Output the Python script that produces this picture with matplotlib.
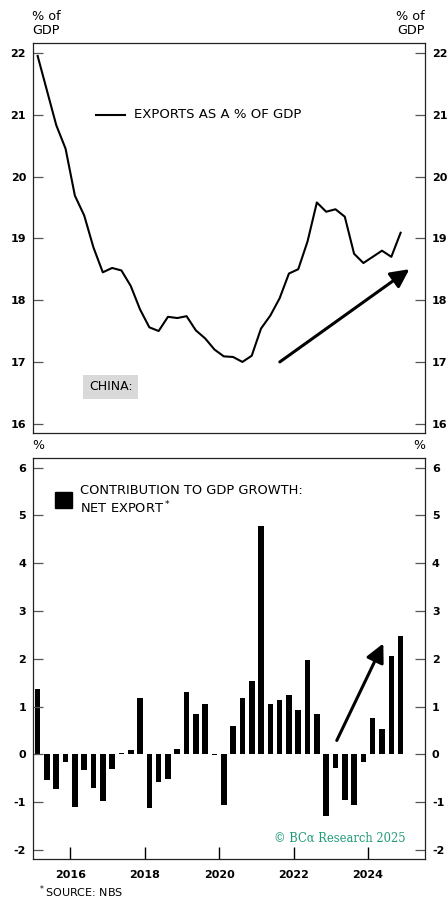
import pandas as pd
from matplotlib import pyplot as plt

# Quarterly series, 2015Q1 - 2024Q4
quarters = pd.period_range("2015Q1", "2024Q4", freq="Q")

exports_pct = [21.95, 21.39, 20.83, 20.45, 19.69, 19.37, 18.85, 18.45,
               18.52, 18.48, 18.23, 17.85, 17.56, 17.50, 17.73, 17.71,
               17.74, 17.51, 17.38, 17.20, 17.09, 17.08, 17.00, 17.10,
               17.54, 17.75, 18.03, 18.43, 18.50, 18.95, 19.58, 19.43,
               19.47, 19.35, 18.75, 18.60, 18.70, 18.80, 18.70, 19.09]

net_export = [1.36, -0.53, -0.72, -0.17, -1.11, -0.33, -0.71, -0.98,
              -0.31, 0.03, 0.10, 1.18, -1.12, -0.58, -0.51, 0.12,
              1.31, 0.85, 1.05, -0.01, -1.06, 0.60, 1.17, 1.54,
              4.77, 1.06, 1.13, 1.24, 0.92, 1.97, 0.84, -1.29,
              -0.29, -0.96, -1.06, -0.17, 0.76, 0.53, 2.06, 2.47]

top_ticks = [16, 17, 18, 19, 20, 21, 22]
bottom_ticks = [-2, -1, 0, 1, 2, 3, 4, 5, 6]
year_ticks = [2016, 2018, 2020, 2022, 2024]

# place each quarter at its midpoint in decimal years
x = [q.year + (q.quarter - 0.5) / 4 for q in quarters]

plt.rcParams['font.family'] = ['DejaVu Sans']
plt.rcParams['axes.unicode_minus'] = False
W, H = 448, 899
fig = plt.figure(figsize=(W / 100, H / 100), dpi=100)


def make_axes(top_px, bottom_px):
    ax = fig.add_axes([33 / W, 1 - bottom_px / H, 392 / W, (bottom_px - top_px) / H])
    for s in ax.spines.values():
        s.set_linewidth(0.9)
        s.set_color('#222222')
    ax.tick_params(axis='y', which='both', direction='in', length=7, width=0.9,
                   color='#555555', left=True, right=True, labelleft=True,
                   labelright=True, labelsize=8, pad=5)
    ax.set_xlim(2015.0, 2025.53)
    return ax


def bold_ticks(ax):
    for lab in ax.get_xticklabels() + ax.get_yticklabels():
        lab.set_fontweight('bold')
    for lab in ax.yaxis.get_ticklabels(which='both'):
        lab.set_fontweight('bold')
    for t in ax.yaxis.get_major_ticks():
        t.label2.set_fontweight('bold')


arrow_style = dict(arrowstyle='-|>,head_length=0.7,head_width=0.35',
                   lw=2.2, color='black', mutation_scale=16,
                   shrinkA=0, shrinkB=0)

# ---- top panel: exports as % of GDP
ax1 = make_axes(43, 433)
ax1.plot(x, exports_pct, color='black', lw=1.5)
ax1.set_ylim(15.85, 22.16)
ax1.set_yticks(top_ticks)
ax1.tick_params(axis='x', bottom=False, labelbottom=False)
ax1.annotate('', xy=(2025.11, 18.50), xytext=(2021.63, 17.0), arrowprops=arrow_style)
ax1.plot([2016.7, 2017.46], [21.0, 21.0], color='black', lw=1.5)
ax1.text(2017.7, 21.0, 'EXPORTS AS A % OF GDP', fontsize=9.5, va='center')
ax1.text(2016.5, 16.6, 'CHINA:', fontsize=9, va='center',
         bbox=dict(boxstyle='square,pad=0.45', fc='#d9d9d9', ec='none'))
bold_ticks(ax1)

fig.text(32 / W, 1 - 24 / H, '% of\nGDP', fontsize=9.2, va='center', ha='left',
         linespacing=1.1)
fig.text(425 / W, 1 - 24 / H, '% of\nGDP', fontsize=9.2, va='center', ha='right',
         linespacing=1.1)
fig.text(32 / W, 1 - 445 / H, '%', fontsize=9, va='center', ha='left')
fig.text(425 / W, 1 - 445 / H, '%', fontsize=9, va='center', ha='right')

# ---- bottom panel: contribution of net exports to GDP growth
ax2 = make_axes(458, 859)
ax2.bar(x, net_export, width=0.15, color='black')
ax2.set_ylim(-2.19, 6.2)
ax2.set_yticks(bottom_ticks)
ax2.set_xticks(year_ticks)
ax2.set_xticklabels([str(y) for y in year_ticks])
ax2.tick_params(axis='x', direction='in', length=9, width=1.0, color='black',
                labelsize=8, pad=8)
ax2.annotate('', xy=(2024.41, 2.32), xytext=(2023.16, 0.29), arrowprops=arrow_style)
ax2.add_patch(plt.Rectangle((2015.6, 5.15), 0.44, 0.34, color='black'))
ax2.text(2016.25, 5.32, 'CONTRIBUTION TO GDP GROWTH:\nNET EXPORT$^*$',
         fontsize=9.4, va='center', linespacing=1.25)
ax2.text(2025.0, -1.76, '\u00a9 BC\u03b1 Research 2025', family='DejaVu Serif',
         fontsize=8.3, color='#1f9a78', ha='right', va='center')
bold_ticks(ax2)

fig.text(38 / W, 1 - 892 / H, '$^*$SOURCE: NBS', fontsize=8, va='center', ha='left')

fig.savefig('out.png', dpi=100)
